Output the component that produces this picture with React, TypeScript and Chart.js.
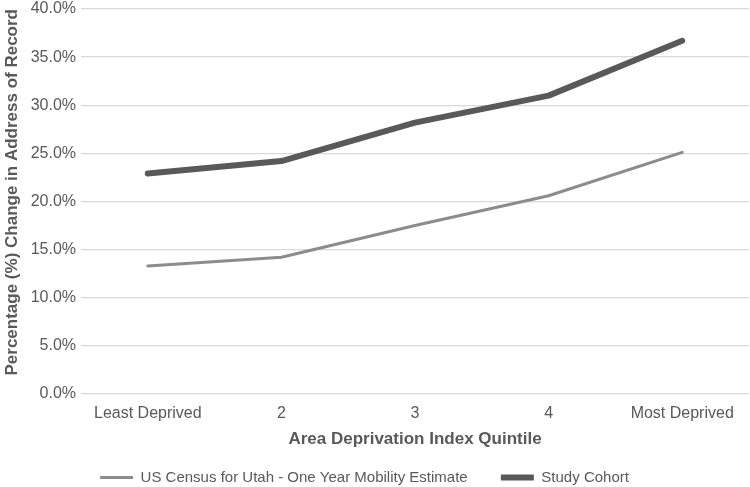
import React, { useEffect, useRef } from "react";
import { Chart, registerables } from "chart.js";

Chart.register(...registerables);

const categories = ["Least Deprived", "2", "3", "4", "Most Deprived"];
const censusValues = [13.3, 14.2, 17.5, 20.6, 25.1];
const cohortValues = [22.9, 24.2, 28.2, 31.0, 36.7];
const seriesNames = ["US Census for Utah - One Year Mobility Estimate", "Study Cohort"];

const FONT = "'Liberation Sans', Arial, sans-serif";

const legendShift = {
  id: "legendShift",
  afterLayout(chart: any) {
    const lg = chart.legend;
    if (!lg) return;
    const dx = -11;
    const dy = 8;
    lg.left += dx;
    lg.right += dx;
    lg.top += dy;
    lg.bottom += dy;
  },
};

export default function App() {
  const ref = useRef<HTMLCanvasElement | null>(null);
  useEffect(() => {
    document.body.style.margin = "0";
    const canvas = ref.current!;
    const chart = new Chart(canvas, {
      type: "line",
      data: {
        labels: categories,
        datasets: [
          {
            label: seriesNames[0],
            data: censusValues,
            borderColor: "#8c8c8c",
            backgroundColor: "#8c8c8c",
            borderWidth: 3,
            pointRadius: 0,
            borderCapStyle: "round",
            borderJoinStyle: "round",
            tension: 0,
          },
          {
            label: seriesNames[1],
            data: cohortValues,
            borderColor: "#595959",
            backgroundColor: "#595959",
            borderWidth: 6,
            pointRadius: 0,
            borderCapStyle: "round",
            borderJoinStyle: "round",
            tension: 0,
          },
        ],
      },
      plugins: [legendShift],
      options: {
        responsive: false,
        animation: false,
        layout: { padding: { top: 9, right: 1, left: 2, bottom: 0 } },
        plugins: {
          tooltip: { enabled: false },
          legend: {
            position: "bottom",
            labels: {
              usePointStyle: true,
              pointStyle: "line",
              pointStyleWidth: 33,
              color: "#595959",
              font: { family: FONT, size: 15 },
              padding: 4,
              boxHeight: 6,
              generateLabels: (c: any) => {
                const items = Chart.defaults.plugins.legend.labels.generateLabels(c);
                items.forEach((it: any, i: number) => {
                  if (i < items.length - 1) it.text = it.text + "       ";
                });
                return items;
              },
            },
          },
        },
        scales: {
          x: {
            offset: true,
            grid: { display: false, drawTicks: false },
            border: { display: false },
            ticks: { color: "#595959", font: { family: FONT, size: 16 }, padding: 10, maxRotation: 0 },
            title: {
              display: true,
              text: "Area Deprivation Index Quintile",
              color: "#595959",
              font: { family: FONT, size: 17, weight: "bold" },
              padding: { top: 5, bottom: 8 },
            },
            afterFit: (s: any) => {
              s.height = 64;
            },
          },
          y: {
            min: 0,
            max: 40,
            ticks: {
              stepSize: 5,
              color: "#595959",
              font: { family: FONT, size: 16 },
              padding: 5,
              callback: (v: any) => Number(v).toFixed(1) + "%",
            },
            grid: { color: "#d9d9d9", lineWidth: 1.3, drawTicks: false },
            border: { display: false },
            title: {
              display: true,
              align: "end",
              text: "Percentage (%) Change in Address of Record",
              color: "#595959",
              font: { family: FONT, size: 17, weight: "bold" },
              padding: { top: 0, bottom: 4 },
            },
            afterFit: (s: any) => {
              s.width = 79;
              s.paddingTop = 0;
              s.paddingBottom = 0;
            },
          },
        },
      },
    });
    return () => chart.destroy();
  }, []);
  return <canvas ref={ref} width={750} height={487} style={{ display: "block" }} />;
}
